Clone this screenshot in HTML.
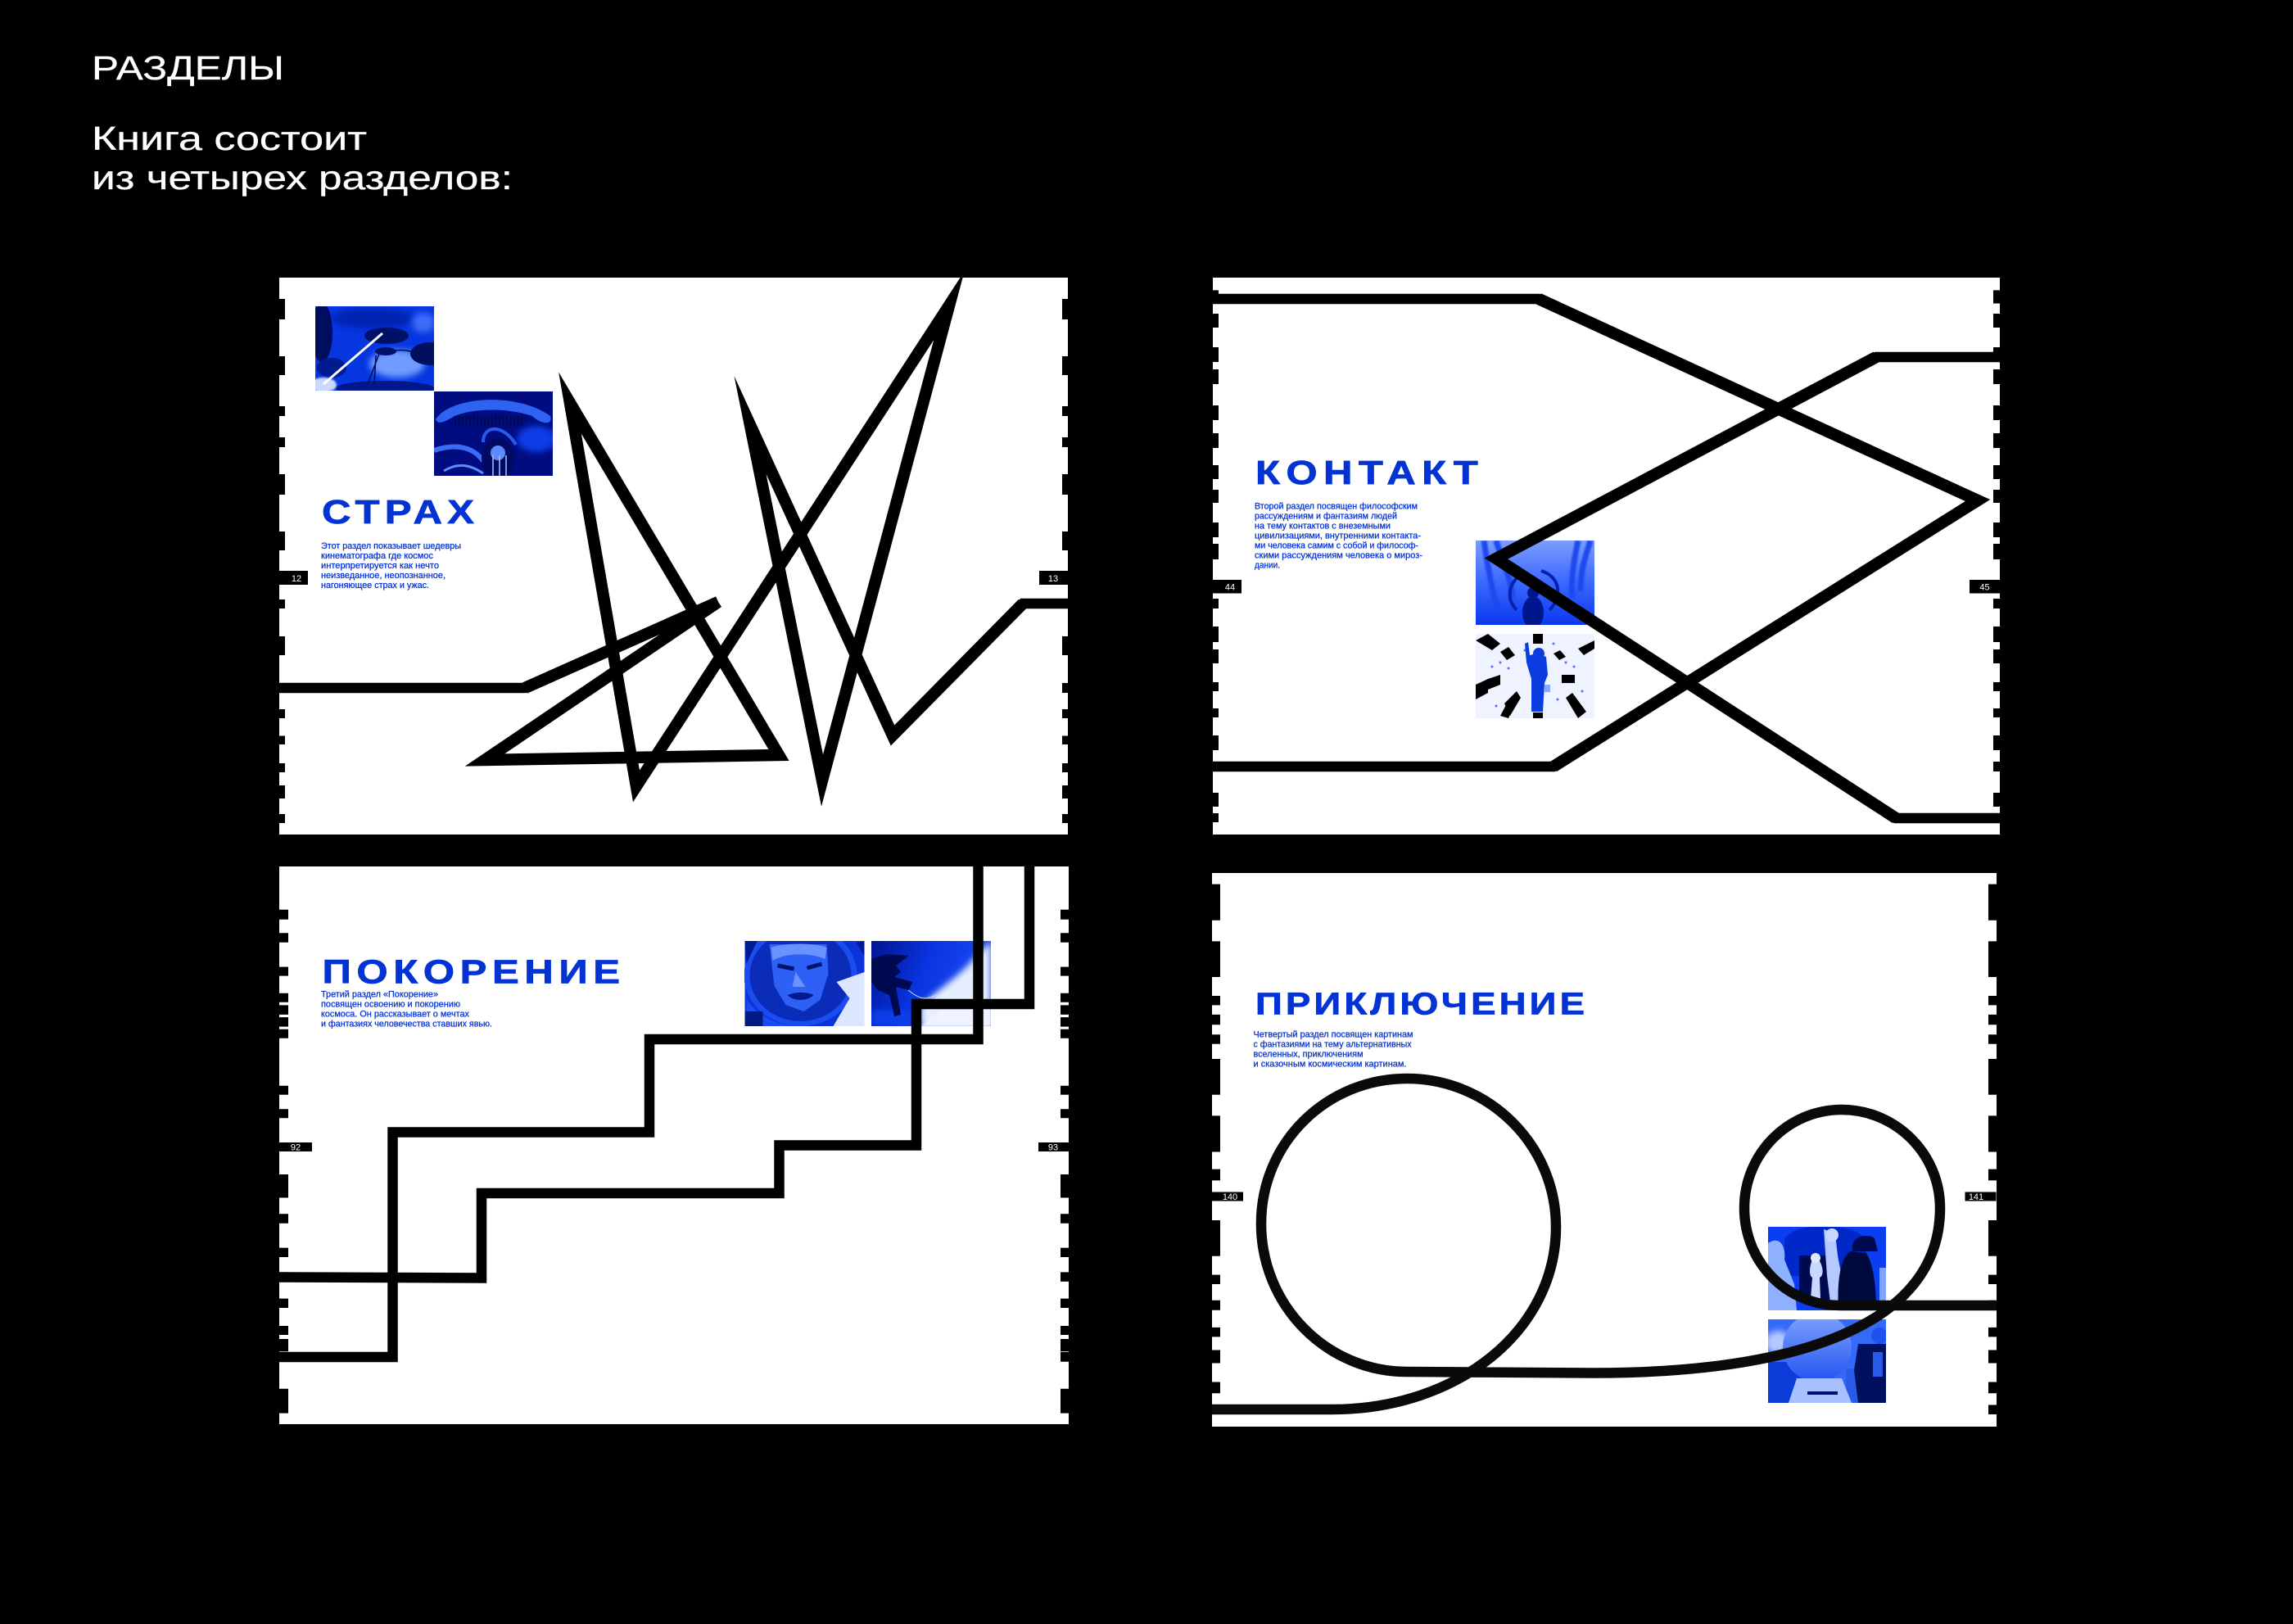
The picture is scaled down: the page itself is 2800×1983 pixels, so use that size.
<!DOCTYPE html>
<html lang="ru">
<head>
<meta charset="utf-8">
<title>Разделы</title>
<style>
html,body{margin:0;padding:0;background:#000;width:2800px;height:1983px;overflow:hidden}
svg{display:block}
text{font-family:"Liberation Sans","DejaVu Sans",sans-serif}
.h{fill:#fff;stroke:#fff;stroke-width:.3;font-size:40.5px}
.t{fill:#0433d4;stroke:#0433d4;stroke-width:.7;font-size:41px;font-weight:bold}
.b{fill:#0433d4;font-size:10.6px;stroke:#0433d4;stroke-width:.25}
.n{fill:#fff;font-size:11px;text-anchor:middle}
.l{fill:none;stroke:#000;stroke-width:12.5;stroke-linejoin:miter;stroke-miterlimit:30}
.d{fill:none;stroke:#000;stroke-width:14.5;stroke-linejoin:miter;stroke-miterlimit:30}
.k{fill:none;stroke:#000}
</style>
</head>
<body>
<svg xmlns="http://www.w3.org/2000/svg" width="2800" height="1983" viewBox="0 0 2800 1983">
<defs>
<filter id="f" x="-30%" y="-30%" width="160%" height="160%"><feGaussianBlur stdDeviation="4"/></filter>
<filter id="g" x="-30%" y="-30%" width="160%" height="160%"><feGaussianBlur stdDeviation="1"/></filter>
<linearGradient id="w" x1="0" y1="0" x2="0" y2="1"><stop offset="0" stop-color="#7d9dff"/><stop offset=".5" stop-color="#3a68ff"/><stop offset="1" stop-color="#0a38ee"/></linearGradient>
<linearGradient id="s" x1="0" y1="0" x2="1" y2=".3"><stop offset="0" stop-color="#001490"/><stop offset=".5" stop-color="#0a34e0"/><stop offset="1" stop-color="#1a4cf5"/></linearGradient>
<linearGradient id="m" x1="0" y1="0" x2="0" y2="1"><stop offset="0" stop-color="#7fa4ff"/><stop offset="1" stop-color="#2454f0"/></linearGradient>
</defs>
<rect width="2800" height="1983" fill="#000"/>

<text class="h" x="112" y="97" textLength="235" lengthAdjust="spacingAndGlyphs">РАЗДЕЛЫ</text>
<text class="h" x="112" y="183" textLength="336" lengthAdjust="spacingAndGlyphs">Книга состоит</text>
<text class="h" x="112" y="231" textLength="514" lengthAdjust="spacingAndGlyphs">из четырех разделов:</text>

<!-- PANEL 1 -->
<rect x="341" y="339" width="963" height="680" fill="#fff"/>
<svg x="385" y="374" width="145" height="103" viewBox="0 0 145 103">
<rect width="145" height="103" fill="#0636e0"/>
<ellipse cx="100" cy="70" rx="34" ry="17" fill="#6f9bff" filter="url(#f)"/>
<ellipse cx="70" cy="15" rx="50" ry="12" fill="#0420b0" filter="url(#f)"/>
<ellipse cx="8" cy="32" rx="13" ry="36" fill="#000c60"/>
<ellipse cx="140" cy="58" rx="24" ry="14" fill="#00105e"/>
<ellipse cx="132" cy="20" rx="14" ry="12" fill="#3d6cf8" filter="url(#f)"/>
<ellipse cx="85" cy="100" rx="60" ry="9" fill="#00188c"/>
<ellipse cx="20" cy="75" rx="18" ry="12" fill="#001a90"/>
<ellipse cx="10" cy="96" rx="16" ry="9" fill="#c8d8ff" filter="url(#g)"/>
<ellipse cx="87" cy="36" rx="27" ry="10" fill="#001268"/>
<ellipse cx="86" cy="55" rx="13" ry="5" fill="#001268"/>
<path d="M78 58L64 95M74 60L72 95M98 54C115 52 122 58 135 60" stroke="#00105e" stroke-width="1.6" fill="none"/>
<path d="M82 33L10 95" stroke="#fff" stroke-width="3"/>
</svg>
<svg x="530" y="478" width="145" height="103" viewBox="0 0 145 103">
<rect width="145" height="103" fill="#000c80"/>
<ellipse cx="125" cy="58" rx="24" ry="16" fill="#0a3ce6" filter="url(#f)"/>
<path d="M2 34C20 6 100 0 142 30C146 42 130 40 120 30C90 20 50 20 25 30C15 36 5 42 2 34Z" fill="#2d62f2"/>
<path d="M25 36h85" stroke="#000850" stroke-width="12" stroke-dasharray="2 2.5"/>
<path d="M0 72C30 62 50 70 60 85" stroke="#3a6cf5" stroke-width="6" fill="none"/>
<path d="M60 62C60 40 85 40 100 65" stroke="#2a5ae8" stroke-width="4" fill="none"/>
<ellipse cx="78" cy="82" rx="20" ry="24" fill="#000a60"/>
<ellipse cx="78" cy="75" rx="9" ry="9" fill="#5a8cff"/>
<path d="M72 78V103M80 78V103M88 78V103" stroke="#9db8ff" stroke-width="1.6"/>
<path d="M12 97C30 86 45 90 60 100" stroke="#5a8cff" stroke-width="3" fill="none"/>
</svg>
<path class="k" stroke-width="7" d="M344.500 365V390M344.500 435V458M344.500 496V508M344.500 534V546M344.500 579V604M344.500 649V672M344.500 732V743M344.500 777V800M344.500 834V846M344.500 866V877M344.500 898.500V909M344.500 932V943M344.500 959V975M344.500 994V1005"/>
<path class="k" stroke-width="7" d="M1300.500 365V390M1300.500 435V458M1300.500 496V508M1300.500 534V546M1300.500 579V604M1300.500 649V672M1300.500 777V800M1300.500 834V846M1300.500 866V877M1300.500 898.500V909M1300.500 932V943M1300.500 959V975M1300.500 994V1005"/>
<rect x="341" y="697" width="35" height="17" fill="#000"/><text class="n" x="362" y="710">12</text>
<rect x="1269" y="697" width="35" height="17" fill="#000"/><text class="n" x="1286" y="710">13</text>
<text class="t" transform="translate(393 639) scale(1.2 1)" textLength="155" lengthAdjust="spacing">СТРАХ</text>
<text class="b" x="392" y="670" textLength="171" lengthAdjust="spacingAndGlyphs">Этот раздел показывает шедевры</text>
<text class="b" x="392" y="682" textLength="137" lengthAdjust="spacingAndGlyphs">кинематографа где космос</text>
<text class="b" x="392" y="694" textLength="144" lengthAdjust="spacingAndGlyphs">интерпретируется как нечто</text>
<text class="b" x="392" y="706" textLength="152" lengthAdjust="spacingAndGlyphs">неизведанное, неопознанное,</text>
<text class="b" x="392" y="718" textLength="132" lengthAdjust="spacingAndGlyphs">нагоняющее страх и ужас.</text>
<svg x="341" y="339" width="963" height="680" viewBox="341 339 963 680">
<path class="l" d="M341 840H641L877 735"/>
<path class="d" d="M641 840L877 735"/>
<path class="d" d="M877 735L592 928L951 922L696 492L777 960L1159 373L1004 953L916 519L1090 898L1249 737"/>
<path class="l" d="M1090 898L1249 737H1304"/>
</svg>

<!-- PANEL 2 -->
<rect x="1481" y="339" width="961" height="680" fill="#fff"/>
<svg x="1802" y="660" width="145" height="103" viewBox="0 0 145 103">
<rect width="145" height="103" fill="url(#w)"/>
<path d="M10 0C14 30 20 60 28 90M25 0C30 20 42 40 45 70M125 0C120 25 116 45 118 70M140 0C134 20 128 35 128 62" stroke="#1a48ee" stroke-width="7" fill="none" filter="url(#g)"/>
<ellipse cx="70" cy="88" rx="13" ry="20" fill="#00168c"/>
<circle cx="70" cy="64" r="7" fill="#00168c"/>
<path d="M50 85C36 70 40 50 60 38M90 85C105 70 105 45 80 37" stroke="#0722b0" stroke-width="4" fill="none"/>
</svg>
<svg x="1802" y="774" width="145" height="103" viewBox="0 0 145 103">
<rect width="145" height="103" fill="#eef3ff"/>
<path d="M70 0h12v12h-12zM0 8L15 0L30 12L20 20ZM145 8L125 18L132 26L145 18ZM30 22L40 16L48 26L38 32ZM0 62L15 55V72L0 80ZM15 55L30 50V62L15 68ZM35 85L50 70L55 78L42 100ZM110 78L118 72L135 95L125 103ZM105 50h16v10h-16zM95 24L103 20L110 28L102 32ZM30 100L38 85L45 92L40 103Z" fill="#000"/>
<g fill="#1f56f0" opacity=".8"><circle cx="20" cy="40" r="1.500"/><circle cx="30" cy="35" r="1.500"/><circle cx="40" cy="42" r="1.500"/><circle cx="110" cy="35" r="1.500"/><circle cx="120" cy="40" r="1.500"/><circle cx="130" cy="70" r="1.500"/><circle cx="100" cy="80" r="1.500"/><circle cx="25" cy="88" r="1.500"/><circle cx="60" cy="20" r="1.500"/><circle cx="95" cy="12" r="1.500"/></g>
<path d="M60 12L62 35L68 55L68 95H82L84 60L88 50L86 28L74 24L66 26L64 10Z" fill="#0a3ce0"/>
<circle cx="77" cy="24" r="7" fill="#0a3ce0"/>
<rect x="84" y="62" width="7" height="9" fill="#8fa8ff"/>
<rect x="70" y="96" width="12" height="7" fill="#000"/>
</svg>
<path class="k" stroke-width="7" d="M1484.500 354.400V370.500M1484.500 383V400M1484.500 424V442M1484.500 451V469M1484.500 495V513M1484.500 529V547M1484.500 568V585M1484.500 598V614M1484.500 638V656M1484.500 664V683M1484.500 731V743M1484.500 765V784M1484.500 793V810M1484.500 833V844M1484.500 865V876M1484.500 898V916M1484.500 930V942M1484.500 968V985M1484.500 993V1004"/>
<path class="k" stroke-width="8" d="M2438 354.400V370.500M2438 383V400M2438 424V442M2438 451V469M2438 495V513M2438 529V547M2438 568V585M2438 598V614M2438 638V656M2438 664V683M2438 731V743M2438 765V784M2438 793V810M2438 833V844M2438 865V876M2438 898V916M2438 930V942M2438 968V985M2438 993V1004"/>
<rect x="1481" y="708" width="35" height="16.500" fill="#000"/><text class="n" x="1502" y="720.500">44</text>
<rect x="2405" y="708" width="37" height="16.500" fill="#000"/><text class="n" x="2423.500" y="720.500">45</text>
<text class="t" transform="translate(1533 591) scale(1.2 1)" textLength="226.500" lengthAdjust="spacing">КОНТАКТ</text>
<text class="b" x="1532" y="621.300" textLength="199" lengthAdjust="spacingAndGlyphs">Второй раздел посвящен философским</text>
<text class="b" x="1532" y="633.300" textLength="174" lengthAdjust="spacingAndGlyphs">рассуждениям и фантазиям людей</text>
<text class="b" x="1532" y="645.300" textLength="166" lengthAdjust="spacingAndGlyphs">на тему контактов с внеземными</text>
<text class="b" x="1532" y="657.300" textLength="203" lengthAdjust="spacingAndGlyphs">цивилизациями, внутренними контакта-</text>
<text class="b" x="1532" y="669.300" textLength="200" lengthAdjust="spacingAndGlyphs">ми человека самим с собой и философ-</text>
<text class="b" x="1532" y="681.300" textLength="205" lengthAdjust="spacingAndGlyphs">скими рассуждениям человека о мироз-</text>
<text class="b" x="1532" y="693.300" textLength="31" lengthAdjust="spacingAndGlyphs">дании.</text>
<svg x="1481" y="339" width="961" height="680" viewBox="1481 339 961 680">
<path class="l" d="M1481 365H1879L2415 611L1897 936H1481"/>
<path class="l" d="M2442 436H2291L1827 682L2315 999H2442"/>
<path class="d" d="M1879 365L2415 611L1897 936"/>
<path class="d" d="M2291 436L1827 682L2315 999"/>
</svg>

<!-- PANEL 3 -->
<rect x="341" y="1058" width="964" height="681" fill="#fff"/>
<svg x="909" y="1149" width="147" height="104" viewBox="0 0 146 104">
<rect width="146" height="104" fill="#0a34d8"/>
<ellipse cx="68" cy="42" rx="69" ry="62" fill="#1a4cf0"/>
<ellipse cx="68" cy="42" rx="62" ry="56" fill="#0a2cb8"/>
<path d="M30 4H100L102 40L92 72L72 86L50 78L36 55Z" fill="#2f60f6"/>
<path d="M32 8C50 2 85 2 100 8L98 22C80 14 50 14 34 24Z" fill="#6a92ff"/>
<path d="M40 30L60 34M76 33L94 28" stroke="#001470" stroke-width="5"/>
<path d="M62 38L58 56H74" fill="#6a92ff"/>
<path d="M52 66C62 62 76 62 84 66C76 74 60 74 52 66Z" fill="#001a90"/>
<path d="M0 0H15L2 28ZM146 0V18L136 2Z" fill="#001a90"/>
<path d="M112 50L146 38V104H108L128 70Z" fill="#dce6ff"/>
<path d="M2 70C15 92 40 102 60 104H2Z" fill="#1a4cf0"/>
<rect x="0" y="86" width="22" height="18" fill="#001a80"/>
</svg>
<svg x="1064" y="1149" width="146" height="104" viewBox="0 0 146 104">
<rect width="146" height="104" fill="url(#s)"/>
<path d="M60 80C80 60 105 45 122 25L146 0V104H60Z" fill="#e6eeff" filter="url(#f)"/>
<path d="M90 80H146V104H60Z" fill="#eef3ff" filter="url(#g)"/>
<rect y="84" width="50" height="20" fill="#0c3ce8" filter="url(#f)"/>
<path d="M0 22L18 16L46 18L30 30L36 38L28 44L50 50L46 60L30 56L36 90L28 92L22 66L8 60L0 50Z" fill="#000a50"/>
<path d="M45 60C55 68 65 75 80 65" stroke="#c8d8ff" stroke-width="1" fill="none"/>
</svg>
<path class="k" stroke-width="11" d="M346.500 1110.800V1122.700M346.500 1139.300V1150.800M346.500 1180.600V1191.600M346.500 1212.700V1223.800M346.500 1227.400V1238.900M346.500 1242.100V1253.600M346.500 1256.800V1267.800M346.500 1325.700V1336.700M346.500 1354.200V1365.200M346.500 1434V1462.500M346.500 1482.200V1493.700M346.500 1523.600V1535M346.500 1553.400V1564.900M346.500 1585.600V1597M346.500 1619V1630M346.500 1635V1650M346.500 1650.700V1662.700M346.500 1695.800V1725.600"/>
<path class="k" stroke-width="10" d="M1300 1110.800V1122.700M1300 1139.300V1150.800M1300 1180.600V1191.600M1300 1212.700V1223.800M1300 1227.400V1238.900M1300 1242.100V1253.600M1300 1256.800V1267.800M1300 1325.700V1336.700M1300 1354.200V1365.200M1300 1434V1462.500M1300 1482.200V1493.700M1300 1523.600V1535M1300 1553.400V1564.900M1300 1585.600V1597M1300 1619V1630M1300 1635V1650M1300 1650.700V1662.700M1300 1695.800V1725.600"/>
<rect x="341" y="1395" width="40" height="11" fill="#000"/><text class="n" x="361" y="1404.500">92</text>
<rect x="1268" y="1395" width="37" height="11" fill="#000"/><text class="n" x="1286" y="1404.500">93</text>
<text class="t" transform="translate(393.500 1200.700) scale(1.2 1)" textLength="303" lengthAdjust="spacing">ПОКОРЕНИЕ</text>
<text class="b" x="392" y="1217.500" textLength="143" lengthAdjust="spacingAndGlyphs">Третий раздел «Покорение»</text>
<text class="b" x="392" y="1229.500" textLength="170" lengthAdjust="spacingAndGlyphs">посвящен освоению и покорению</text>
<text class="b" x="392" y="1241.500" textLength="181" lengthAdjust="spacingAndGlyphs">космоса. Он рассказывает о мечтах</text>
<text class="b" x="392" y="1253.500" textLength="209" lengthAdjust="spacingAndGlyphs">и фантазиях человечества ставших явью.</text>
<path class="l" d="M341 1657H479.500V1382.500H793V1269H1194.500V1040"/>
<path class="l" d="M341 1559.500L588 1560.500V1457H951.500V1398.500H1119V1226H1257V1040"/>

<!-- PANEL 4 -->
<rect x="1480" y="1066" width="958" height="676" fill="#fff"/>
<svg x="2159" y="1498" width="144" height="102" viewBox="0 0 144 102">
<rect width="144" height="102" fill="#0a3ef0"/>
<path d="M20 15C30 -5 100 -8 120 15V60H20Z" fill="#0028c8"/>
<rect x="38" y="35" width="45" height="55" fill="#000a50"/>
<path d="M0 20C15 10 22 25 20 40L32 70L35 102H0Z" fill="#8fb0ff"/>
<path d="M68 3L82 8L85 35L92 72L88 92H76L72 60Z" fill="#b5c8ff"/>
<circle cx="78" cy="10" r="8" fill="#c8d8ff"/>
<path d="M54 40C50 50 50 60 54 62L52 88H64L63 62C68 60 68 50 62 40Z" fill="#c8d8ff"/>
<circle cx="58" cy="38" r="6" fill="#dfe8ff"/>
<path d="M100 30C88 40 84 65 86 102H132C132 70 128 45 120 32Z" fill="#00093c"/>
<path d="M103 30C100 10 122 8 130 14L134 30Z" fill="#000a50"/>
<rect x="136" y="50" width="8" height="40" fill="#7fa4ff"/>
</svg>
<svg x="2159" y="1611" width="144" height="102" viewBox="0 0 144 102">
<rect width="144" height="102" fill="#356af8"/>
<ellipse cx="12" cy="28" rx="16" ry="14" fill="#b5c8ff" filter="url(#f)"/>
<rect x="0" y="52" width="50" height="50" fill="#0c3cd8"/>
<rect x="95" y="60" width="20" height="42" fill="#2a5ae8"/>
<circle cx="60" cy="34" r="42" fill="url(#m)"/>
<path d="M35 72H90L102 102H25Z" fill="#a8c0ff"/>
<path d="M48 90H85" stroke="#000f70" stroke-width="4"/>
<path d="M110 30L105 62L110 102H144V30Z" fill="#00105e"/>
<circle cx="136" cy="20" r="10" fill="#1f52ec"/>
<rect x="128" y="40" width="12" height="30" fill="#2a5ae8"/>
</svg>
<path class="k" stroke-width="10" d="M1485 1079.600V1123.700M1485 1149.400V1193M1485 1216V1227.400M1485 1238.900V1251.300M1485 1263.200V1274.700M1485 1293V1336.700M1485 1362.400V1406.500M1485 1427.600V1441.400M1485 1490V1533.700M1485 1556.600V1568M1485 1587.800V1599.800M1485 1620.900V1632.400M1485 1648.500V1664.500M1485 1687.500V1701.200M1485 1715.500V1727"/>
<path class="k" stroke-width="10" d="M2433 1079.600V1123.700M2433 1149.400V1193M2433 1216V1227.400M2433 1238.900V1251.300M2433 1263.200V1274.700M2433 1293V1336.700M2433 1362.400V1406.500M2433 1427.600V1441.400M2433 1490V1533.700M2433 1556.600V1568M2433 1587.800V1599.800M2433 1620.900V1632.400M2433 1648.500V1664.500M2433 1687.500V1701.200M2433 1715.500V1727"/>
<rect x="1480" y="1455.500" width="38" height="11" fill="#000"/><text class="n" x="1502" y="1465">140</text>
<rect x="2399.500" y="1455.500" width="38" height="11" fill="#000"/><text class="n" x="2413" y="1465">141</text>
<text class="t" style="font-size:38px" transform="translate(1533 1238.700) scale(1.2 1)" textLength="335" lengthAdjust="spacing">ПРИКЛЮЧЕНИЕ</text>
<text class="b" x="1530.500" y="1266.700" textLength="195" lengthAdjust="spacingAndGlyphs">Четвертый раздел посвящен картинам</text>
<text class="b" x="1530.500" y="1278.700" textLength="193" lengthAdjust="spacingAndGlyphs">с фантазиями на тему альтернативных</text>
<text class="b" x="1530.500" y="1290.700" textLength="134" lengthAdjust="spacingAndGlyphs">вселенных, приключениям</text>
<text class="b" x="1530.500" y="1302.500" textLength="187" lengthAdjust="spacingAndGlyphs">и сказочным космическим картинам.</text>
<path class="l" style="stroke:#0a0a0a" d="M1480 1721H1626C1780 1721 1900 1625 1900 1498C1900 1398 1818 1317 1718 1317C1620 1317 1540 1395 1540 1494C1540 1594 1620 1675 1718 1675L1945 1676.500C2190 1676.500 2369 1620 2369 1475C2369 1409 2315 1355 2249 1355C2183 1355 2130 1409 2130 1475C2130 1541 2181 1594 2247 1594H2438"/>
</svg>
</body>
</html>
